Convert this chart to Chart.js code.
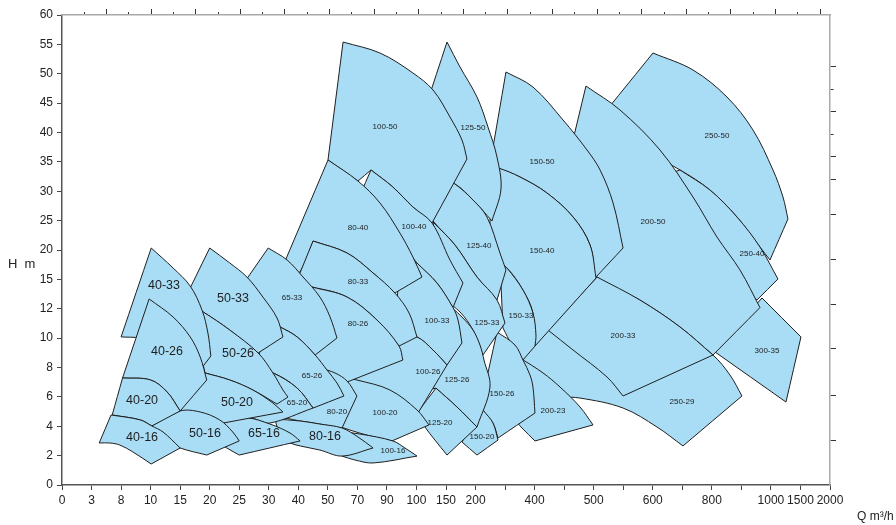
<!DOCTYPE html>
<html><head><meta charset="utf-8">
<script src="https://cdn.jsdelivr.net/npm/chart.js@4.4.1/dist/chart.umd.min.js"></script>
<style>html,body{margin:0;padding:0;background:#fff;}#wrap{width:896px;height:525px;}</style>
</head><body><div id="wrap"><canvas id="c" width="896" height="525"></canvas></div>
<script>
// Axis ticks (non-linear axes: ticks are evenly spaced)
const xTickValues = [0,3,8,10,15,20,25,30,40,50,70,90,100,150,200,300,400,450,500,550,600,700,800,900,1000,1500,2000];
const xTickLabels = ['0','3','8','10','15','20','25','30','40','50','70','90','100','150','200','','400','','500','','600','','800','','1000','1500','2000'];
const hTickValues = [0,2,4,6,8,10,12,15,20,25,30,35,40,45,50,55,60];
const hTickLabels = ['0','2','4','6','8','10','12','15','20','25','30','35','40','45','50','55','60'];
const topTickIdx = [1,2,3,4,5,6,7,8,9,10,11,12,13,14,15,16,17,18,19,20,21,22,23,24,25,26,27,28,29,30,31,32,33,34];
const rightTickH = [51.2,47.35,43.55,39.7,35.85,32.05,26.1,18.3,12.48,9.26,6.12,3.06];

// Pump regions: outline points [Q m3/h, H m]
const r40_16 = [[4.3,2.86],[6.3,4.77],[9.3,4.43],[10.2,4.02],[12.1,3.61],[15,2.52],[10.1,1.43],[8.8,2.25],[7.8,2.72],[6.1,2.86]];
const r40_20 = [[6.5,4.77],[8.1,7.29],[10,7.15],[12.8,6.33],[15,5.04],[10.2,4.02],[9.3,4.43]];
const r40_26 = [[8.1,7.29],[9.9,13],[13.8,11.44],[16.7,10.08],[18.4,8.71],[19.5,7.15],[15,5.04],[12.8,6.33],[10,7.15]];
const r40_33 = [[8,10.08],[10.1,20.34],[13.8,16.94],[16.7,14.32],[18.7,11.91],[19.7,10.35],[20.2,8.78],[18.9,8.1],[16.7,8.78],[12.4,9.6],[9.3,10.01]];
const r50_16 = [[10.2,4.02],[15,5.04],[18.4,4.97],[21.7,4.43],[23.9,3.61],[25,3.0],[19.5,2.04],[15,2.52],[12.4,3.06]];
const r50_20 = [[15,5.04],[19.2,7.63],[23.4,7.15],[27.3,6.47],[31.4,5.58],[34.8,4.97],[22.3,4.22],[19.2,4.77]];
const r50_26 = [[19.2,7.63],[16.7,12.38],[18.9,11.78],[23.4,10.55],[28.2,8.99],[31.4,7.63],[34.8,6.47],[36.5,5.99],[32.8,5.51],[27.3,6.47],[23.4,7.15]];
const r50_33 = [[15.7,12.89],[20,20.34],[23.4,17.79],[26.3,15.4],[29,13.2],[32.8,11.37],[34.8,10.08],[28.2,8.99],[23.4,10.55],[18.9,11.78]];
const r65_16 = [[20.4,3.61],[22.3,4.22],[26.3,4.56],[30.4,4.15],[37.2,3.54],[40.6,3.0],[25,2.04],[22.9,2.52],[21.4,2.93]];
const r65_20 = [[26,4.7],[28.9,7.69],[31.4,7.63],[39.6,6.6],[45,5.24],[30.4,4.22],[27.7,4.49]];
const r65_26 = [[28.2,7.69],[28.9,11.37],[33.8,10.76],[39.6,10.08],[45.7,8.85],[49.7,7.83],[56.2,6.94],[60.9,6.06],[45,5.24],[39.6,6.6],[31.4,7.63]];
const r65_33 = [[23.8,12.89],[29.9,20.34],[36.2,18.3],[41.6,15.4],[47.3,13.2],[51.5,11.44],[56.2,10.01],[45.7,8.85],[39.6,10.08],[33.8,10.76],[28.5,11.37]];
const r80_16 = [[33.8,3.2],[32.1,4.49],[40.6,4.36],[47.3,4.15],[59.6,3.88],[70.4,3.27],[80.6,2.52],[59.6,1.97],[47.3,2.38],[40.6,2.66],[37.2,2.86]];
const r80_20 = [[35.5,4.56],[47.3,7.97],[54.8,7.63],[63,7.08],[69.7,6.06],[59.6,3.88],[47.3,4.15],[40.6,4.36]];
const r80_26 = [[40.6,9.53],[41.6,14.43],[44.6,14.22],[63,13.2],[83.3,11.23],[94.1,9.46],[95.4,8.51],[63,7.01],[51.5,7.69],[46.7,8.17]];
const r80_33 = [[38.9,14.43],[45,21.53],[63,19.49],[80.6,16.09],[92.7,13.61],[97.5,11.71],[100.9,10.08],[94.1,9.46],[83.3,11.23],[63,13.2],[44.6,14.22]];
const r80_40 = [[32.8,14.94],[50.1,35.32],[70.4,31.74],[85.3,28],[94.4,22.89],[98.8,18.81],[109.3,15.4],[92.7,13.61],[80.6,16.09],[63,19.49],[45,21.53],[42.3,17.96],[40.6,16.26]];
const r100_16 = [[59.6,1.97],[51.5,3.74],[71.8,3.47],[92,3.0],[96.1,2.52],[100.9,1.97],[80.6,1.5],[68.4,1.7]];
const r100_20 = [[54.8,4.09],[61.6,7.29],[69.7,7.15],[91,6.47],[100.9,5.11],[121.2,4.09],[91.7,3.0],[78.5,3.34],[65,3.74]];
const r100_26 = [[65,7.01],[93.7,10.21],[100.9,10.08],[128,9.19],[151.7,8.17],[102.6,4.9],[91,6.33],[78.5,6.81]];
const r100_33 = [[92.7,10.55],[94.4,17.96],[100.9,17.79],[134.7,14.63],[161.8,12.12],[170.3,11.23],[177,9.67],[151.7,8.17],[128,9.19],[100.9,10.08]];
const r100_40 = [[71.8,29.36],[79.2,33.62],[92,30.72],[98.8,27.32],[126.3,24.6],[156.7,18.3],[178.7,14.63],[161.8,12.12],[134.7,14.63],[100.9,17.79],[92.7,22.55]];
const r100_50 = [[50.1,35.32],[60.3,55.4],[85.3,53.53],[98.8,50.13],[128,47.23],[156.7,42.64],[177,38.72],[185.5,35.49],[126.3,24.6],[98.8,27.32],[92,30.72],[79.2,33.62],[70.4,31.74]];
const r125_20 = [[100.9,4.9],[133,6.6],[168.6,5.31],[204.9,3.95],[151.7,2.04],[131.3,3.06],[114.4,3.95]];
const r125_26 = [[128,6.54],[160.1,12.12],[178.7,11.37],[195.7,10.55],[215,9.53],[228.6,8.51],[248.9,6.67],[204.9,3.95],[168.6,5.31],[133,6.6]];
const r125_33 = [[148.3,12.89],[128,24.77],[165.2,20.85],[204.9,15.4],[272.6,12.89],[299.7,11.03],[225.2,8.85],[195.7,10.55],[173.7,11.78]];
const r125_40 = [[119.5,26.47],[148.3,31.91],[165.2,31.23],[195.7,28.51],[238.7,25.62],[282.7,19.49],[303,16.6],[272.6,12.89],[204.9,15.4],[165.2,20.85],[128,24.94]];
const r125_50 = [[96.1,33.62],[151.7,55.4],[173.7,51.15],[204.9,46.04],[242.1,40.94],[272.6,35.83],[286.1,30.38],[255.6,24.94],[195.7,28.51],[165.2,31.23],[122.8,32.77]];
const r150_20 = [[177,2.93],[225.2,5.11],[259,4.22],[276,3.06],[204.9,2.04]];
const r150_26 = [[221.8,5.79],[272.6,10.42],[333.5,9.53],[360.6,8.51],[384.3,7.49],[394.4,6.67],[400.6,4.9],[276,3.2],[259,4.22],[225.2,5.11]];
const r150_33 = [[292.9,10.69],[282.7,17.96],[306.4,16.94],[360.6,13.91],[394.4,11.71],[402.3,10.21],[400.6,9.46],[360.6,8.51],[323.4,9.53]];
const r150_40 = [[248.9,19.15],[248.9,33.96],[276,33.96],[350.5,32.43],[420.9,29.7],[465.1,25.62],[493.8,20.85],[504,15.23],[400.6,9.46],[394.4,11.71],[360.6,13.91],[306.4,16.94]];
const r150_50 = [[248.9,34.47],[303,50.3],[394.4,47.74],[448.1,42.13],[488.7,37.02],[510.8,33.62],[532.8,28],[549.7,20.34],[502.3,15.23],[493.8,20.85],[465.1,25.62],[420.9,29.7],[350.5,32.43],[276,33.96]];
const r200_23 = [[333.5,4.43],[350.5,8.65],[414.2,7.63],[443,6.67],[476.9,5.31],[498.9,4.09],[400.6,3],[357.2,3.88]];
const r200_33 = [[422.6,10.55],[505.7,15.4],[578.3,12.89],[692.1,10.76],[803.8,8.85],[549.7,6.06],[522.6,7.35],[465.1,9.19]];
const r200_50 = [[434.5,25.96],[486.9,47.91],[544.5,43.83],[624.4,37.02],[736.1,29.02],[817.3,22.21],[895.2,16.6],[962.9,12.12],[803.8,8.85],[692.1,10.76],[578.3,12.89],[505.7,15.4],[473.5,20.85]];
const r250_29 = [[336.9,7.15],[417.5,12.89],[510.8,12.38],[578.3,11.37],[692.1,10.55],[803.8,8.85],[861.3,7.49],[902,6.06],[702.2,2.66],[614.2,3.95],[549.7,5.24],[476.9,5.92],[417.5,6.13]];
const r250_40 = [[760.1,19.15],[641.3,32.77],[692.1,33.62],[793.6,30.21],[885,25.62],[962.9,20.51],[1119,15.06],[952.7,12.89],[895.2,14.43]];
const r250_50 = [[483.6,39.06],[600.7,53.53],[736.1,50.64],[851.2,46.04],[939.2,40.43],[1034.6,33.62],[1203.9,29.02],[1288.5,25.28],[996.8,18.3],[962.9,20.51],[885,25.62],[793.6,30.21],[692.1,33.62],[595.3,36.17]];
const r300_35 = [[810.6,9.06],[969.7,13.1],[1508.5,10.08],[1254.6,5.65]];

// Drawing order: first entry is on top
const regionNames = ['40-16','40-20','40-26','40-33','50-16','50-20','50-26','50-33','65-16','65-20','65-26','65-33','80-16','80-20','80-26','80-33','80-40','100-16','100-20','100-26','100-33','100-40','100-50','125-20','125-26','125-33','125-40','125-50','150-20','150-26','150-33','150-40','150-50','200-23','200-33','200-50','250-29','250-40','250-50','300-35'];
const regionPolys = [r40_16,r40_20,r40_26,r40_33,r50_16,r50_20,r50_26,r50_33,r65_16,r65_20,r65_26,r65_33,r80_16,r80_20,r80_26,r80_33,r80_40,r100_16,r100_20,r100_26,r100_33,r100_40,r100_50,r125_20,r125_26,r125_33,r125_40,r125_50,r150_20,r150_26,r150_33,r150_40,r150_50,r200_23,r200_33,r200_50,r250_29,r250_40,r250_50,r300_35];
const labelQ = [9.42,9.42,12.77,12.26,19.2,24.62,24.79,23.94,29.19,39.55,44.63,37.86,49.03,56.19,70.41,70.41,70.41,92.05,88.69,119.5,134.73,99.16,88.69,139.83,168.58,238.72,211.65,195.67,221.8,289.5,353.82,412.46,412.46,431.08,549.68,600.7,698.85,935.81,817.33,986.59];
const labelH = [3.2,5.72,9.06,14.32,3.47,5.58,8.92,13.0,3.47,5.58,7.42,13.1,3.27,4.97,10.96,14.73,23.74,2.31,4.9,7.69,11.17,23.91,40.94,4.22,7.15,11.03,20.68,40.77,3.27,6.2,11.51,19.83,34.98,5.04,10.14,24.77,5.65,19.32,39.4,9.12];
const bigLabels = ['40-16','40-20','40-26','40-33','50-16','50-20','50-26','50-33','65-16','80-16'];

function toIdx(v, arr){
  for (let i = 0; i < arr.length - 1; i++) {
    if (v <= arr[i+1]) return i + (v - arr[i]) / (arr[i+1] - arr[i]);
  }
  return arr.length - 1;
}

// map outline to axis positions; repeat sharp vertices so the curved
// edges can be drawn smoothly while the corners stay sharp
function outline(poly){
  const p = poly.map(v => ({x: toIdx(v[0], xTickValues), y: toIdx(v[1], hTickValues)}));
  const n = p.length, out = [];
  for (let i = 0; i < n; i++) {
    const a = p[(i - 1 + n) % n], b = p[i], c = p[(i + 1) % n];
    const a1 = Math.atan2(b.y - a.y, b.x - a.x), a2 = Math.atan2(c.y - b.y, c.x - b.x);
    let d = Math.abs(a2 - a1); if (d > Math.PI) d = 2 * Math.PI - d;
    out.push(b);
    if (d > 0.6) out.push({x: b.x, y: b.y});
  }
  out.push({x: p[0].x, y: p[0].y});
  return out;
}

const FONT = '"Liberation Sans", Arial, sans-serif';
const datasets = regionPolys.map((poly, i) => ({
  label: regionNames[i], data: outline(poly), showLine: true, fill: 'shape',
  backgroundColor: '#a9ddf6', borderColor: '#1f1f1f', borderWidth: 1,
  pointRadius: 0, pointHoverRadius: 0, tension: 0.35
}));

const labelPlugin = {
  id: 'regionLabels',
  afterDatasetsDraw(chart) {
    const {ctx, scales: {x, y}} = chart;
    ctx.save();
    ctx.fillStyle = '#1e1e1e';
    ctx.textAlign = 'center';
    ctx.textBaseline = 'middle';
    regionNames.forEach((n, i) => {
      ctx.font = (bigLabels.includes(n) ? '12.5px ' : '8px ') + FONT;
      ctx.fillText(n, x.getPixelForValue(toIdx(labelQ[i], xTickValues)), y.getPixelForValue(toIdx(labelH[i], hTickValues)));
    });
    ctx.font = '13px ' + FONT;
    ctx.textAlign = 'left';
    ctx.fillStyle = '#222';
    ctx.fillText('H  m', 8, 264);
    ctx.font = '12px ' + FONT;
    ctx.fillText('Q m\u00b3/h', 857, 517);
    ctx.restore();
  }
};

new Chart(document.getElementById('c'), {
  type: 'scatter',
  data: { datasets },
  options: {
    responsive: false, devicePixelRatio: 1, animation: false,
    layout: { padding: 0 },
    plugins: { legend: { display: false }, tooltip: { enabled: false } },
    events: [],
    scales: {
      x: {
        type: 'linear', position: 'bottom', min: 0, max: 26,
        afterFit: s => { s.height = 40; },
        border: { color: '#555', width: 1.5 },
        grid: { drawOnChartArea: false, tickLength: 5, color: '#444' },
        ticks: { stepSize: 1, autoSkip: false, maxRotation: 0, minRotation: 0, padding: 3, color: '#222',
          font: { family: FONT, size: 12 }, callback: v => xTickLabels[v] ?? '' }
      },
      y: {
        type: 'linear', position: 'left', min: 0, max: 16,
        afterFit: s => { s.width = 62; },
        border: { color: '#555', width: 1.5 },
        grid: { drawOnChartArea: false, tickLength: 5, color: '#444' },
        ticks: { stepSize: 1, autoSkip: false, padding: 4, color: '#222',
          font: { family: FONT, size: 12 }, callback: v => hTickLabels[v] ?? '' }
      },
      xTop: {
        type: 'linear', position: 'top', min: 0, max: 34.44,
        afterFit: s => { s.height = 15; },
        afterBuildTicks: s => { s.ticks = topTickIdx.map(v => ({value: v})); },
        border: { color: '#aaa', width: 1.5 },
        grid: { drawOnChartArea: false, tickLength: 6, color: '#333',
          tickBorderDash: c => (c.tick && c.tick.value % 2 === 1) ? [3, 100] : [],
          tickBorderDashOffset: c => (c.tick && c.tick.value % 2 === 1) ? 100 : 0 },
        ticks: { display: false }
      },
      yRight: {
        type: 'linear', position: 'right', min: 0, max: 16,
        afterFit: s => { s.width = 66; },
        afterBuildTicks: s => { s.ticks = rightTickH.map(h => ({value: toIdx(h, hTickValues)})); },
        border: { color: '#aaa', width: 1.5 },
        grid: { drawOnChartArea: false, tickLength: 6, color: '#333',
          tickBorderDash: c => (c.index === 1 || c.index === 3) ? [3, 100] : [] },
        ticks: { display: false }
      }
    }
  },
  plugins: [labelPlugin]
});
</script></body></html>
